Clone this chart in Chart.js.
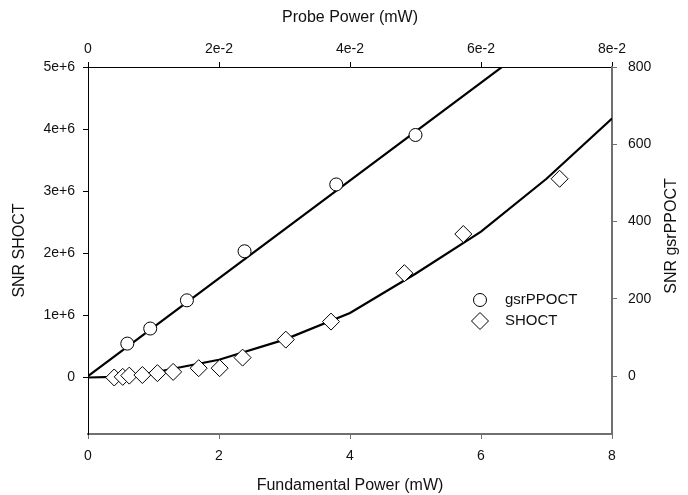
<!DOCTYPE html>
<html><head><meta charset="utf-8">
<script src="https://cdn.jsdelivr.net/npm/chart.js@4.4.1/dist/chart.umd.min.js"></script>
<style>html,body{margin:0;padding:0;background:#fff}#wrap{width:688px;height:495px;position:relative}</style>
</head><body><div id="wrap"><canvas id="c" width="688" height="495"></canvas></div>
<script>
// ---- tick values / labels ----
const fundamentalTicks = [0, 2, 4, 6, 8];
const fundamentalTickLabels = ['0', '2', '4', '6', '8'];
const probeTicks = [0, 0.02, 0.04, 0.06, 0.08];
const probeTickLabels = ['0', '2e-2', '4e-2', '6e-2', '8e-2'];
const shoctTicks = [0, 1e6, 2e6, 3e6, 4e6, 5e6];
const shoctTickLabels = ['0', '1e+6', '2e+6', '3e+6', '4e+6', '5e+6'];
const gsrTicks = [0, 200, 400, 600, 800];
const gsrTickLabels = ['0', '200', '400', '600', '800'];

// ---- gsrPPOCT (top / right axes) ----
const gsrProbePower = [0.0060, 0.0095, 0.0151, 0.0239, 0.0379, 0.0500];
const gsrSNR = [84, 123, 196, 323, 496, 624];
const gsrFitProbe = [0, 0.07];
const gsrFitSNR = [0, 886];

// ---- SHOCT (bottom / left axes) ----
const shoctFundPower = [0.40, 0.53, 0.63, 0.83, 1.06, 1.30, 1.69, 2.01, 2.36, 3.02, 3.71, 4.83, 5.73, 7.20];
const shoctSNR = [0, 0.01e6, 0.03e6, 0.04e6, 0.07e6, 0.09e6, 0.15e6, 0.15e6, 0.32e6, 0.61e6, 0.90e6, 1.68e6, 2.31e6, 3.20e6];
const shoctFitPower = [0, 0.4, 1, 2, 3, 4, 5, 6, 7, 8];
const shoctFitSNR = [0, 0.01e6, 0.08e6, 0.285e6, 0.61e6, 1.04e6, 1.67e6, 2.35e6, 3.2e6, 4.17e6];

const seriesNames = ['gsrPPOCT', 'SHOCT'];

const FONT = "'Liberation Sans', Arial, sans-serif";
const pts = (xs, ys) => xs.map((x, i) => ({ x: x, y: ys[i] }));
const fixTicks = (vals) => (scale) => { scale.ticks = vals.map(v => ({ value: v })); };
const labelFrom = (vals, labels) => (v) => { const i = vals.findIndex(t => Math.abs(t - v) < 1e-9 * Math.max(1, Math.abs(t))); return i >= 0 ? labels[i] : ''; };

const customText = {
  id: 'customText',
  afterDraw(chart) {
    const ctx = chart.ctx;
    ctx.save();
    // right axis title (reads bottom-to-top)
    ctx.fillStyle = '#111';
    ctx.font = "16px " + FONT;
    ctx.textAlign = 'center';
    ctx.textBaseline = 'middle';
    ctx.translate(672, 236);
    ctx.rotate(-Math.PI / 2);
    ctx.fillText('SNR gsrPPOCT', 0, 0);
    ctx.restore();
    // legend
    ctx.save();
    const styles = [
      { pointStyle: 'circle', radius: 6.5 },
      { pointStyle: 'rectRot', radius: 8.5 }
    ];
    const rows = [300, 321];
    seriesNames.forEach((name, i) => {
      ctx.fillStyle = '#fff';
      ctx.strokeStyle = '#000';
      ctx.lineWidth = 1;
      Chart.helpers.drawPoint(ctx, { pointStyle: styles[i].pointStyle, radius: styles[i].radius, borderWidth: 1, rotation: 0 }, 480, rows[i]);
      ctx.fillStyle = '#111';
      ctx.font = "15px " + FONT;
      ctx.textAlign = 'left';
      ctx.textBaseline = 'middle';
      ctx.fillText(name, 505, rows[i]);
    });
    ctx.restore();
  }
};

const axisCommon = (color, width) => ({
  type: 'linear',
  grid: { drawOnChartArea: false, drawTicks: true, tickLength: 5, color: color, tickWidth: 1 },
  border: { display: true, color: color, width: width },
  ticks: { color: '#111', font: { family: FONT, size: 14 } }
});

new Chart(document.getElementById('c'), {
  type: 'scatter',
  data: {
    datasets: [
      { label: 'gsrPPOCT', data: pts(gsrProbePower, gsrSNR), xAxisID: 'x2', yAxisID: 'y2', order: 0,
        pointStyle: 'circle', pointRadius: 6.5, pointBorderWidth: 1, pointBackgroundColor: '#fff', pointBorderColor: '#000', showLine: false },
      { label: 'SHOCT', data: pts(shoctFundPower, shoctSNR), xAxisID: 'x', yAxisID: 'y', order: 0,
        pointStyle: 'rectRot', pointRadius: 8.5, pointBorderWidth: 1, pointBackgroundColor: '#fff', pointBorderColor: '#000', showLine: false },
      { label: 'gsrPPOCT fit', data: pts(gsrFitProbe, gsrFitSNR), xAxisID: 'x2', yAxisID: 'y2', order: 1,
        showLine: true, borderColor: '#000', borderWidth: 2.2, pointRadius: 0, tension: 0 },
      { label: 'SHOCT fit', data: pts(shoctFitPower, shoctFitSNR), xAxisID: 'x', yAxisID: 'y', order: 1,
        showLine: true, borderColor: '#000', borderWidth: 2.2, pointRadius: 0, tension: 0 }
    ]
  },
  options: {
    responsive: false,
    animation: false,
    events: [],
    layout: { padding: 0 },
    plugins: { legend: { display: false }, tooltip: { enabled: false } },
    scales: {
      x: Object.assign(axisCommon('#707070', 2), {
        position: 'bottom', min: 0, max: 8,
        afterFit: (s) => { s.height = 61; },
        afterBuildTicks: fixTicks(fundamentalTicks),
        ticks: { color: '#111', font: { family: FONT, size: 14 }, padding: 9, maxRotation: 0, callback: labelFrom(fundamentalTicks, fundamentalTickLabels) },
        title: { display: true, text: 'Fundamental Power (mW)', color: '#111', font: { family: FONT, size: 16 }, padding: { top: 0, bottom: 0 } }
      }),
      x2: Object.assign(axisCommon('#000', 1), {
        position: 'top', min: 0, max: 0.08,
        afterFit: (s) => { s.height = 67; },
        afterBuildTicks: fixTicks(probeTicks),
        ticks: { color: '#111', font: { family: FONT, size: 14 }, padding: 4, maxRotation: 0, callback: labelFrom(probeTicks, probeTickLabels) },
        title: { display: true, text: 'Probe Power (mW)', color: '#111', font: { family: FONT, size: 16 }, padding: { top: 8, bottom: 0 } }
      }),
      y: Object.assign(axisCommon('#000', 1), {
        position: 'left', min: -0.91e6, max: 5e6,
        afterFit: (s) => { s.width = 88; },
        afterBuildTicks: fixTicks(shoctTicks),
        ticks: { color: '#111', font: { family: FONT, size: 14 }, padding: 8, callback: labelFrom(shoctTicks, shoctTickLabels) },
        title: { display: true, text: 'SNR SHOCT', color: '#111', font: { family: FONT, size: 16 }, padding: { top: 10, bottom: 0 } }
      }),
      y2: Object.assign(axisCommon('#707070', 2), {
        position: 'right', min: -150, max: 800,
        afterFit: (s) => { s.width = 76; },
        afterBuildTicks: fixTicks(gsrTicks),
        ticks: { color: '#111', font: { family: FONT, size: 14 }, padding: 11, callback: labelFrom(gsrTicks, gsrTickLabels) },
        title: { display: false }
      })
    }
  },
  plugins: [customText]
});
</script>
</body></html>
